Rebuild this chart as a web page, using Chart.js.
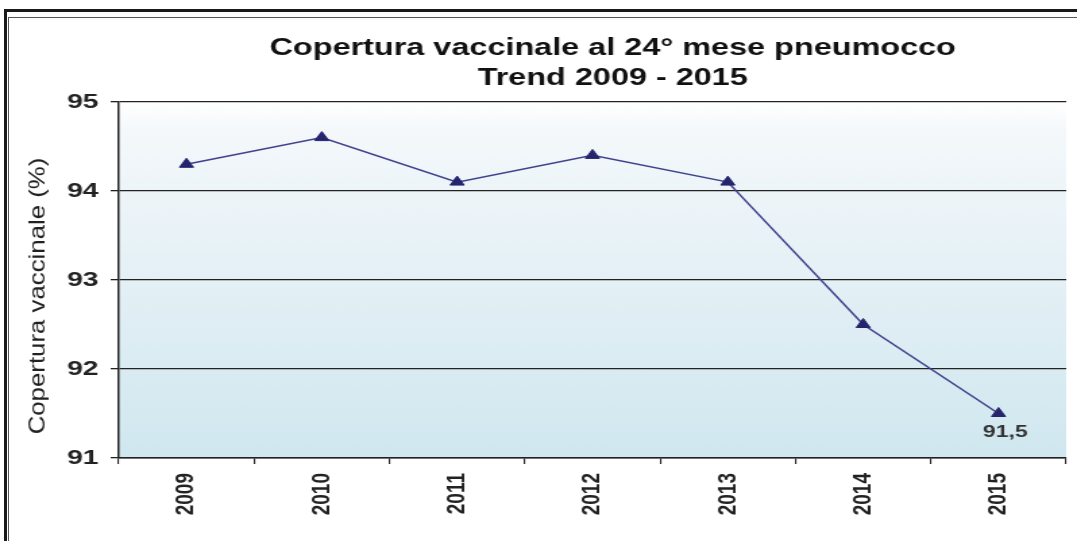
<!DOCTYPE html>
<html>
<head>
<meta charset="utf-8">
<script src="https://cdn.jsdelivr.net/npm/chart.js@4"></script>
<style>
  html, body { margin: 0; padding: 0; background: #fff; }
  #wrap { position: relative; width: 1077px; height: 541px; overflow: hidden; }
  #chart { position: absolute; left: 0; top: 0; }
  .frame-outer { position: absolute; left: 4px; top: 9px; width: 1200px; height: 600px;
    border-left: 3px solid #1a1a1a; border-top: 3px solid #1a1a1a; }
  .frame-inner { position: absolute; left: 8px; top: 17px; width: 1200px; height: 600px;
    border-left: 1.5px solid #555; border-top: 1.5px solid #555; }
</style>
</head>
<body>
<div id="wrap">
  <div class="frame-outer"></div>
  <div class="frame-inner"></div>
  <!-- the source picture is stretched sideways, so the canvas is drawn narrow and widened by its inline style -->
  <canvas id="chart" width="798" height="541" style="width:1077px;height:541px"></canvas>
</div>
<script>
// Data
const years = ['2009', '2010', '2011', '2012', '2013', '2014', '2015'];
const coverage = [94.3, 94.6, 94.1, 94.4, 94.1, 92.5, 91.5]; // copertura (%)
const yTicks = [91, 92, 93, 94, 95];
const labelledYears = ['2015']; // points that carry a value label

const titleLines = ['Copertura vaccinale al 24° mese pneumocco', 'Trend 2009 - 2015'];
const yAxisTitle = 'Copertura vaccinale (%)';

const fontFamily = '"Liberation Sans", Arial, Helvetica, sans-serif';

// light gradient behind the plot area
const plotBackground = {
  id: 'plotBackground',
  beforeDraw(chart) {
    const { ctx, chartArea: { left, top, right, bottom } } = chart;
    const g = ctx.createLinearGradient(0, top, 0, bottom);
    g.addColorStop(0, '#ffffff');
    g.addColorStop(0.08, '#f4f8fb');
    g.addColorStop(1, '#d0e7ef');
    ctx.save();
    ctx.fillStyle = g;
    ctx.fillRect(left, top, right - left, bottom - top);
    ctx.restore();
  }
};

// two-line title, a bit right of the plot centre like in the original
const titlePlugin = {
  id: 'chartTitle',
  afterDraw(chart) {
    const ctx = chart.ctx;
    ctx.save();
    ctx.font = 'bold 24px ' + fontFamily;
    ctx.fillStyle = '#111';
    ctx.textAlign = 'center';
    ctx.textBaseline = 'middle';
    titleLines.forEach((line, i) => ctx.fillText(line, 454, 48.5 + i * 30));
    ctx.restore();
  }
};

// y axis title, drawn by hand so it can be stretched along its length like the original
const yTitlePlugin = {
  id: 'yTitle',
  afterDraw(chart) {
    const ctx = chart.ctx;
    ctx.save();
    ctx.translate(28, 296);
    ctx.rotate(-Math.PI / 2);
    ctx.scale(1.29, 0.83);
    ctx.font = '20px ' + fontFamily;
    ctx.fillStyle = '#222';
    ctx.textAlign = 'center';
    ctx.textBaseline = 'middle';
    ctx.fillText(yAxisTitle, 0, 0);
    ctx.restore();
  }
};

// value label under the chosen points ("91,5")
const pointLabelPlugin = {
  id: 'pointLabel',
  afterDatasetsDraw(chart) {
    const meta = chart.getDatasetMeta(0);
    const ctx = chart.ctx;
    ctx.save();
    ctx.font = 'bold 17px ' + fontFamily;
    ctx.fillStyle = '#333';
    ctx.textAlign = 'center';
    ctx.textBaseline = 'middle';
    labelledYears.forEach(year => {
      const i = years.indexOf(year);
      const pt = meta.data[i];
      ctx.fillText(coverage[i].toFixed(1).replace('.', ','), pt.x + 5, pt.y + 19);
    });
    ctx.restore();
  }
};

const ctx = document.getElementById('chart').getContext('2d');

const coverageChart = new Chart(ctx, {
  type: 'line',
  data: {
    labels: years,
    datasets: [{
      label: yAxisTitle,
      data: coverage,
      borderColor: '#41418c',
      borderWidth: 1.5,
      tension: 0,
      fill: false,
      pointStyle: 'triangle',
      pointRadius: 6,
      pointBackgroundColor: '#25256e',
      pointBorderColor: '#25256e',
      pointBorderWidth: 1,
    }],
  },
  options: {
    responsive: false,
    animation: false,
    devicePixelRatio: 1,
    layout: { padding: { left: 0, right: 8, top: 102, bottom: 0 } },
    plugins: {
      legend: { display: false },
      tooltip: { enabled: false },
      title: { display: false },
    },
    scales: {
      x: {
        offset: true,
        grid: { offset: true, drawOnChartArea: false, drawTicks: true, tickLength: 6, color: '#222', lineWidth: 1.1 },
        border: { color: '#222', width: 1.5 },
        ticks: {
          minRotation: 90,
          maxRotation: 90,
          autoSkip: false,
          padding: 9,
          color: '#222',
          font: { family: fontFamily, size: 19, weight: 'bold' },
        },
        afterFit(scale) { scale.height = 83; },
      },
      y: {
        min: yTicks[0],
        max: yTicks[yTicks.length - 1],
        afterBuildTicks(scale) { scale.ticks = yTicks.map(v => ({ value: v })); },
        grid: { color: '#222', lineWidth: 1.3, tickLength: 6 },
        border: { color: '#222', width: 1.5 },
        ticks: {
          padding: 9,
          color: '#222',
          font: { family: fontFamily, size: 21, weight: 'bold' },
        },
        afterFit(scale) { scale.width = 88; },
      },
    },
  },
  plugins: [plotBackground, titlePlugin, yTitlePlugin, pointLabelPlugin],
});
</script>
</body>
</html>
